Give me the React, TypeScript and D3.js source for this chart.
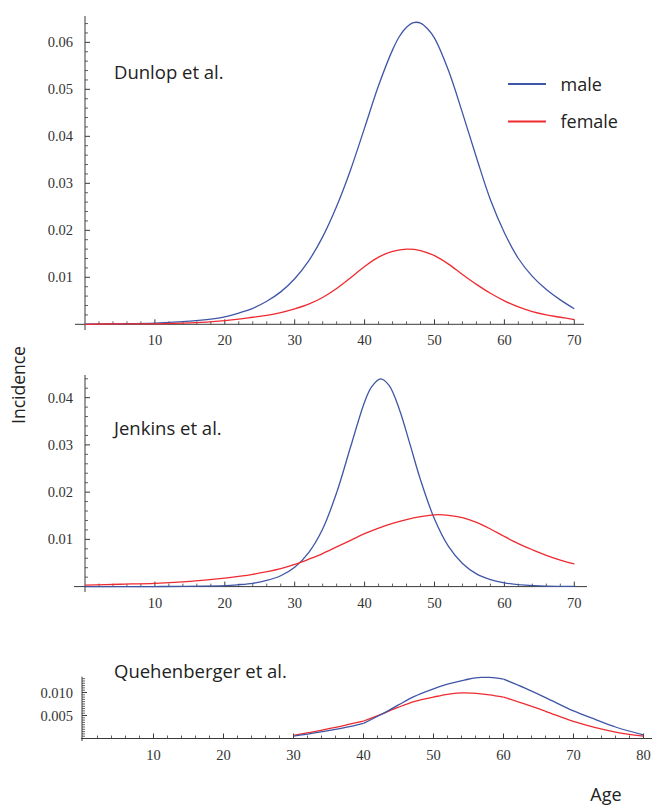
import React from "react";
import * as d3 from "d3";

// ---------- Data ----------
// Panel 1: Dunlop et al.
const dunlopAges = [0, 5, 10, 15, 18, 20, 22, 24, 26, 28, 30, 32, 34, 36, 38, 40, 42, 44, 45, 46, 47, 48, 49, 50, 52, 54, 56, 58, 60, 62, 64, 66, 68, 70];
const dunlopMale = [0.00002, 0.0001, 0.00026, 0.00066, 0.0011, 0.0016, 0.0024, 0.0034, 0.0049, 0.0069, 0.0097, 0.0135, 0.0186, 0.0251, 0.0329, 0.0418, 0.0508, 0.0584, 0.0613, 0.0632, 0.0642, 0.0641, 0.0629, 0.0609, 0.054, 0.045, 0.0355, 0.0265, 0.0195, 0.014, 0.0102, 0.0074, 0.0052, 0.0033];
const dunlopFemaleAges = [0, 5, 10, 15, 20, 22, 24, 26, 28, 30, 32, 34, 36, 38, 40, 42, 44, 46, 48, 50, 52, 54, 56, 58, 60, 62, 64, 66, 68, 70];
const dunlopFemale = [0, 0.0001, 0.0001, 0.0003, 0.0008, 0.0011, 0.0015, 0.0019, 0.0025, 0.0033, 0.0043, 0.0057, 0.0076, 0.0099, 0.0123, 0.0143, 0.0155, 0.016, 0.0157, 0.0146, 0.0128, 0.0106, 0.0085, 0.0066, 0.005, 0.0037, 0.0027, 0.002, 0.0015, 0.001];

// Panel 2: Jenkins et al.
const jenkinsMaleAges = [0, 10, 20, 22, 24, 26, 28, 30, 32, 34, 36, 38, 40, 41, 42.3, 43.5, 45, 46.5, 48, 50, 52, 54, 56, 58, 60, 63, 66, 70];
const jenkinsMale = [0, 0.00001, 0.0002, 0.0004, 0.0007, 0.0013, 0.0023, 0.0041, 0.0072, 0.0122, 0.0199, 0.0296, 0.0391, 0.0423, 0.044, 0.0426, 0.0374, 0.0301, 0.0226, 0.0143, 0.0085, 0.0049, 0.0027, 0.0015, 0.0008, 0.0003, 0.0001, 0.00003];
const jenkinsFemaleAges = [0, 5, 10, 15, 20, 24, 28, 30, 32, 34, 36, 38, 40, 42, 44, 46, 48, 50, 52, 54, 56, 58, 60, 62, 64, 66, 68, 70];
const jenkinsFemale = [0.0003, 0.0005, 0.0007, 0.0011, 0.0018, 0.0026, 0.0038, 0.0047, 0.0058, 0.007, 0.0084, 0.0098, 0.0112, 0.0124, 0.0134, 0.0142, 0.0148, 0.0152, 0.0151, 0.0146, 0.0136, 0.0122, 0.0106, 0.0091, 0.0078, 0.0066, 0.0056, 0.0048];

// Panel 3: Quehenberger et al. (piecewise segments)
const queAgesA = [30, 33, 36, 38, 40];
const queMaleA = [0.0005, 0.0012, 0.002, 0.0026, 0.0033];
const queFemaleA = [0.0007, 0.0015, 0.0024, 0.0031, 0.0038];
const queAgesB = [40, 42.4, 45, 47.2, 50, 52, 54.4, 56.8, 58, 60];
const queMaleB = [0.0033, 0.0051, 0.0073, 0.0091, 0.0108, 0.0118, 0.0127, 0.0133, 0.0133, 0.0129];
const queFemaleB = [0.0038, 0.0052, 0.0068, 0.008, 0.009, 0.0096, 0.0099, 0.0097, 0.0095, 0.009];
const queAgesC = [60, 63, 66, 70, 73, 76, 80];
const queMaleC = [0.0129, 0.011, 0.0089, 0.006, 0.0042, 0.0025, 0.0008];
const queFemaleC = [0.009, 0.0075, 0.0059, 0.0037, 0.0024, 0.0014, 0.0005];

// Tick labels
const xTicks70 = [10, 20, 30, 40, 50, 60, 70];
const xTicks80 = [10, 20, 30, 40, 50, 60, 70, 80];
const yTicks1 = [0.01, 0.02, 0.03, 0.04, 0.05, 0.06];
const yLabels1 = ["0.01", "0.02", "0.03", "0.04", "0.05", "0.06"];
const yTicks2 = [0.01, 0.02, 0.03, 0.04];
const yLabels2 = ["0.01", "0.02", "0.03", "0.04"];
const yTicks3 = [0.005, 0.01];
const yLabels3 = ["0.005", "0.010"];

const titles = ["Dunlop et al.", "Jenkins et al.", "Quehenberger et al."];
const legendLabels = ["male", "female"];

const BLUE = "#3f56a6";
const RED = "#ee2b30";
const AXIS = "#3a3a3a";
const SERIF = "'Liberation Serif', 'Times New Roman', serif";
const SANS = "'Open Sans', 'Noto Sans', sans-serif";

const zip = (a: number[], b: number[]) => a.map((v, i) => [v, b[i]] as [number, number]);

type Series = { color: string; pts: [number, number][]; curve: d3.CurveFactory };
type Panel = {
  x: d3.ScaleLinear<number, number>;
  y: d3.ScaleLinear<number, number>;
  axisX: number;
  xLine: [number, number];
  yLine: [number, number];
  xTicks: number[];
  xMax: number;
  yTicks: number[];
  yLabels: string[];
  yMinor: number;
  yTop: number;
  series: Series[];
  title: string;
  titleY: number;
};

function Axes({ p }: { p: Panel }) {
  const base = p.y(0);
  const xMinor = d3.range(2, p.xMax + 0.01, 2).filter((v) => v % 10 !== 0);
  const nMinor = Math.floor(p.yTop / p.yMinor + 1e-6);
  const yMinor = d3
    .range(1, nMinor + 1)
    .map((i) => i * p.yMinor)
    .filter((v) => !p.yTicks.some((t) => Math.abs(t - v) < 1e-9));
  return (
    <g>
      <line x1={p.xLine[0]} x2={p.xLine[1]} y1={base} y2={base} stroke={AXIS} strokeWidth={1} />
      <line x1={p.axisX} x2={p.axisX} y1={p.yLine[0]} y2={p.yLine[1]} stroke={AXIS} strokeWidth={1} />
      {p.xTicks.map((t) => (
        <g key={"xt" + t}>
          <line x1={p.x(t)} x2={p.x(t)} y1={base} y2={base - 5} stroke={AXIS} strokeWidth={1} />
          <text x={p.x(t)} y={base + 21} textAnchor="middle" fontFamily={SERIF} fontSize={14.5} fill="#333">
            {t}
          </text>
        </g>
      ))}
      {xMinor.map((t) => (
        <line key={"xm" + t} x1={p.x(t)} x2={p.x(t)} y1={base} y2={base - 3} stroke={AXIS} strokeWidth={0.8} />
      ))}
      {p.yTicks.map((t, i) => (
        <g key={"yt" + t}>
          <line x1={p.axisX} x2={p.axisX + 5} y1={p.y(t)} y2={p.y(t)} stroke={AXIS} strokeWidth={1} />
          <text x={73} y={p.y(t)} dy="0.35em" textAnchor="end" fontFamily={SERIF} fontSize={14.5} fill="#333">
            {p.yLabels[i]}
          </text>
        </g>
      ))}
      {yMinor.map((t) => (
        <line key={"ym" + t} x1={p.axisX} x2={p.axisX + 3} y1={p.y(t)} y2={p.y(t)} stroke={AXIS} strokeWidth={0.8} />
      ))}
    </g>
  );
}

export default function App() {
  const x70 = d3.scaleLinear().domain([0, 70]).range([85, 574.3]);
  const x80 = d3.scaleLinear().domain([0, 80]).range([83.5, 643.5]);
  const smooth = d3.curveCatmullRom.alpha(0.5);
  const mono = d3.curveMonotoneX;

  const panels: Panel[] = [
    {
      x: x70,
      y: d3.scaleLinear().domain([0, 0.0655]).range([324.3, 16.5]),
      axisX: 85,
      xLine: [75, 584],
      yLine: [16, 330],
      xTicks: xTicks70,
      xMax: 70,
      yTicks: yTicks1,
      yLabels: yLabels1,
      yMinor: 0.002,
      yTop: 0.0655,
      series: [
        { color: BLUE, pts: zip(dunlopAges, dunlopMale), curve: smooth },
        { color: RED, pts: zip(dunlopFemaleAges, dunlopFemale), curve: smooth },
      ],
      title: titles[0],
      titleY: 79,
    },
    {
      x: x70,
      y: d3.scaleLinear().domain([0, 0.0448]).range([586.6, 375]),
      axisX: 85,
      xLine: [74, 587],
      yLine: [375, 592],
      xTicks: xTicks70,
      xMax: 70,
      yTicks: yTicks2,
      yLabels: yLabels2,
      yMinor: 0.002,
      yTop: 0.0448,
      series: [
        { color: BLUE, pts: zip(jenkinsMaleAges, jenkinsMale), curve: smooth },
        { color: RED, pts: zip(jenkinsFemaleAges, jenkinsFemale), curve: smooth },
      ],
      title: titles[1],
      titleY: 435,
    },
    {
      x: x80,
      y: d3.scaleLinear().domain([0, 0.01343]).range([738.5, 676.7]),
      axisX: 82,
      xLine: [81, 652],
      yLine: [676.7, 741],
      xTicks: xTicks80,
      xMax: 80,
      yTicks: yTicks3,
      yLabels: yLabels3,
      yMinor: 0.0005,
      yTop: 0.01343,
      series: [
        { color: RED, pts: zip(queAgesA, queFemaleA), curve: mono },
        { color: RED, pts: zip(queAgesB, queFemaleB), curve: mono },
        { color: RED, pts: zip(queAgesC, queFemaleC), curve: mono },
        { color: BLUE, pts: zip(queAgesA, queMaleA), curve: mono },
        { color: BLUE, pts: zip(queAgesB, queMaleB), curve: mono },
        { color: BLUE, pts: zip(queAgesC, queMaleC), curve: mono },
      ],
      title: titles[2],
      titleY: 678,
    },
  ];

  return (
    <svg
      width={652}
      height={805}
      viewBox="0 0 652 805"
      style={{ position: "absolute", left: 0, top: 0, background: "#fff" }}
    >
      <rect x={0} y={0} width={652} height={805} fill="#fff" />
      {panels.map((p, i) => (
        <g key={i}>
          <Axes p={p} />
          {p.series.map((s, j) => {
            const gen = d3
              .line<[number, number]>()
              .x((d) => p.x(d[0]))
              .y((d) => p.y(d[1]))
              .curve(s.curve);
            return (
              <path key={j} d={gen(s.pts) || ""} fill="none" stroke={s.color} strokeWidth={1.3} strokeLinejoin="round" />
            );
          })}
          <text x={114} y={p.titleY} fontFamily={SANS} fontSize={18.5} fill="#222">
            {p.title}
          </text>
        </g>
      ))}
      {/* Legend */}
      {legendLabels.map((lab, i) => (
        <g key={lab}>
          <line x1={508} x2={546} y1={84 + i * 37.5} y2={84 + i * 37.5} stroke={i === 0 ? BLUE : RED} strokeWidth={2.2} />
          <text x={560.5} y={90.5 + i * 37.5} fontFamily={SANS} fontSize={18} fill="#222">
            {lab}
          </text>
        </g>
      ))}
      {/* Axis titles */}
      <text
        transform="translate(25,385) rotate(-90)"
        textAnchor="middle"
        fontFamily={SANS}
        fontSize={17.5}
        fill="#222"
      >
        Incidence
      </text>
      <text x={606} y={801} textAnchor="middle" fontFamily={SANS} fontSize={18} fill="#222">
        Age
      </text>
    </svg>
  );
}
